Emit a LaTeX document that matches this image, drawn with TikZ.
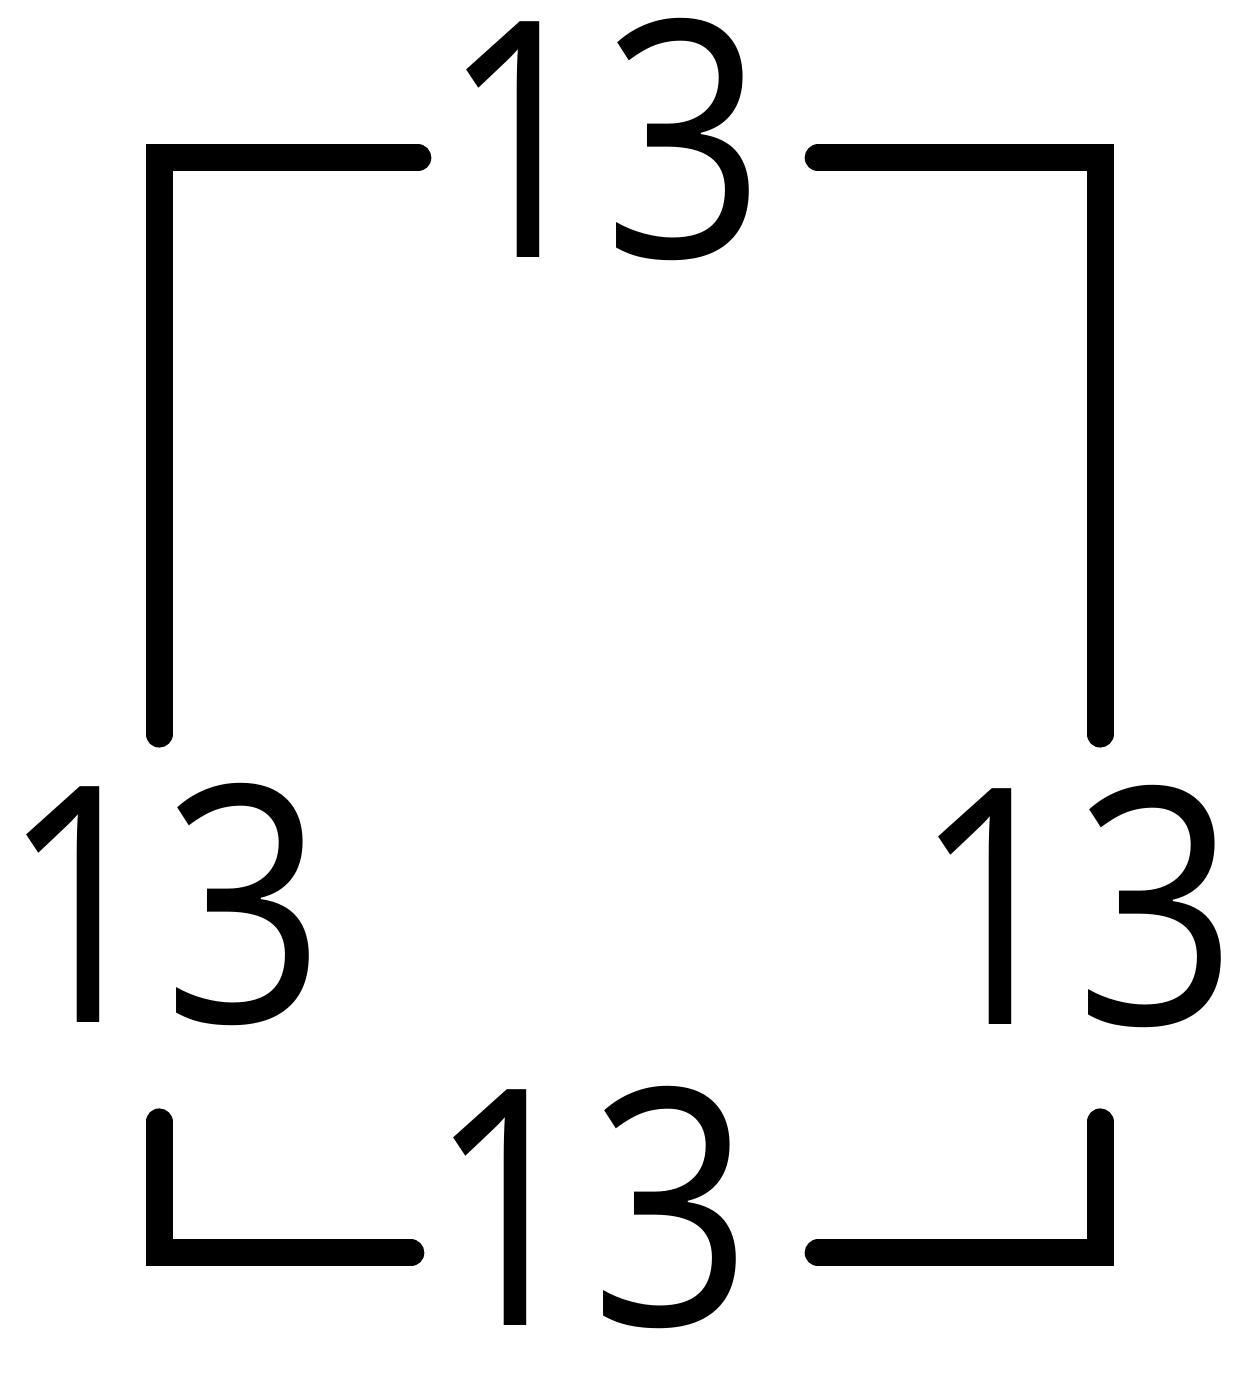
\documentclass[tikz,border=0pt]{standalone}
\usepackage{fontspec}
\setmainfont{Open Sans}
\newcommand{\sidelen}{\scalebox{0.86}[1]{13}}
\begin{document}
\begin{tikzpicture}[line join=miter,line cap=round,font=\fontsize{94}{100}\selectfont,
	side/.style={inner sep=0pt},
	edge/.style={line width=0.27cm}]
	\useasboundingbox (0,0) rectangle (12.55,14);
	% corners of the square
	\coordinate (tl) at (1.59,12.42);
	\coordinate (tr) at (11.0,12.42);
	\coordinate (bl) at (1.59,1.47);
	\coordinate (br) at (11.0,1.47);
	% side labels
	\node[side] (top) at (6.03,12.6) {\sidelen};
	\node[side] (left) at (1.63,4.95) {\sidelen};
	\node[side] (right) at (10.75,4.93) {\sidelen};
	\node[side] (bottom) at (5.9,1.93) {\sidelen};
	\draw[edge,shorten <=0.22cm,shorten >=0.49cm] (top.west |- tl) -- (tl) -- (tl |- left.north);
	\draw[edge,shorten <=0.52cm,shorten >=0.51cm] (top.east |- tr) -- (tr) -- (tr |- right.north);
	\draw[edge,shorten <=0.95cm,shorten >=0.16cm] (bl |- left.south) -- (bl) -- (bottom.west |- bl);
	\draw[edge,shorten <=0.93cm,shorten >=0.65cm] (br |- right.south) -- (br) -- (bottom.east |- br);
\end{tikzpicture}
\end{document}
